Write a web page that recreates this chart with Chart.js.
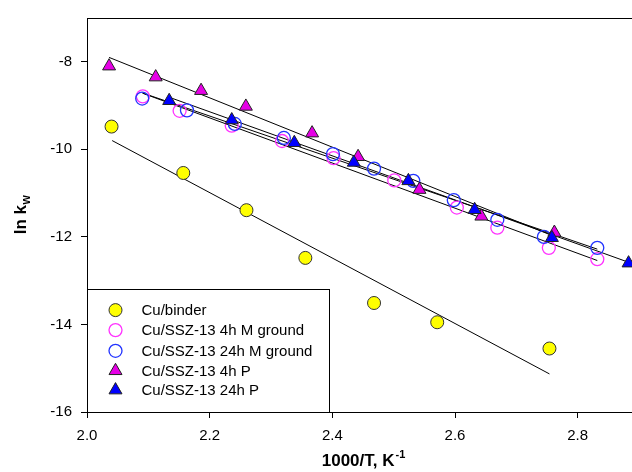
<!DOCTYPE html>
<html>
<head>
<meta charset="utf-8">
<script src="https://cdn.jsdelivr.net/npm/chart.js@4.4.1/dist/chart.umd.min.js"></script>
<style>
  html, body { margin: 0; padding: 0; background: #fff; overflow: hidden; }
  #wrap { width: 632px; height: 472px; overflow: hidden; }
</style>
</head>
<body>
<div id="wrap"><canvas id="chart" width="650" height="472"></canvas></div>
<script>
// x = 1000/T (K^-1), y = ln kw
const binderX = [2.040, 2.157, 2.260, 2.356, 2.468, 2.571, 2.754];
const binderY = [-9.48, -10.54, -11.39, -12.48, -13.51, -13.95, -14.55];

const ground4hX = [2.091, 2.151, 2.236, 2.318, 2.402, 2.501, 2.603, 2.669, 2.753, 2.832];
const ground4hY = [-8.79, -9.12, -9.46, -9.81, -10.20, -10.71, -11.33, -11.79, -12.25, -12.51];

const ground24hX = [2.090, 2.163, 2.241, 2.321, 2.401, 2.468, 2.532, 2.598, 2.669, 2.745, 2.832];
const ground24hY = [-8.84, -9.11, -9.42, -9.74, -10.11, -10.44, -10.72, -11.16, -11.61, -12.00, -12.25];

const p4hX = [2.036, 2.112, 2.186, 2.259, 2.367, 2.442, 2.542, 2.643, 2.762];
const p4hY = [-8.10, -8.35, -8.66, -9.02, -9.63, -10.17, -10.92, -11.53, -11.90];

const p24hX = [2.134, 2.236, 2.338, 2.435, 2.524, 2.632, 2.758, 2.883];
const p24hY = [-8.89, -9.33, -9.85, -10.30, -10.72, -11.38, -12.02, -12.60];

// regression lines, start and end
const binderFitX = [2.041, 2.754];
const binderFitY = [-9.80, -15.13];
const ground4hFitX = [2.091, 2.832];
const ground4hFitY = [-8.72, -12.54];
const ground24hFitX = [2.090, 2.832];
const ground24hFitY = [-8.71, -12.28];
const p4hFitX = [2.036, 2.762];
const p4hFitY = [-7.90, -11.99];
const p24hFitX = [2.134, 2.883];
const p24hFitY = [-8.81, -12.58];

const seriesNames = ["Cu/binder", "Cu/SSZ-13 4h M ground", "Cu/SSZ-13 24h M ground", "Cu/SSZ-13 4h P", "Cu/SSZ-13 24h P"];
const xTicks = [2.0, 2.2, 2.4, 2.6, 2.8];
const yTicks = [-16, -14, -12, -10, -8];

const FONT = "'Liberation Sans', Arial, sans-serif";

const pts = (xs, ys) => xs.map((x, i) => ({ x: x, y: ys[i] }));

// marker look for each series (legend uses the same)
const styles = [
  { pointStyle: "circle",   radius: 6.5, fill: "#ffff00", stroke: "#333333", width: 1 },
  { pointStyle: "circle",   radius: 6.5, fill: "rgba(0,0,0,0)", stroke: "#ff33ff", width: 1.3 },
  { pointStyle: "circle",   radius: 6.5, fill: "rgba(0,0,0,0)", stroke: "#2233ff", width: 1.3 },
  { pointStyle: "triangle", radius: 7.5, fill: "#e600e6", stroke: "#222222", width: 1 },
  { pointStyle: "triangle", radius: 7.5, fill: "#0000ff", stroke: "#222222", width: 1 }
];

const seriesData = [
  pts(binderX, binderY),
  pts(ground4hX, ground4hY),
  pts(ground24hX, ground24hY),
  pts(p4hX, p4hY),
  pts(p24hX, p24hY)
];

const fitData = [
  pts(binderFitX, binderFitY),
  pts(ground4hFitX, ground4hFitY),
  pts(ground24hFitX, ground24hFitY),
  pts(p4hFitX, p4hFitY),
  pts(p24hFitX, p24hFitY)
];

const datasets = [];
seriesData.forEach((d, i) => {
  const s = styles[i];
  datasets.push({
    label: seriesNames[i],
    data: d,
    pointStyle: s.pointStyle,
    pointRadius: s.radius,
    pointBackgroundColor: s.fill,
    pointBorderColor: s.stroke,
    pointBorderWidth: s.width,
    showLine: false,
    order: 10 - i
  });
});
fitData.forEach((d, i) => {
  datasets.push({
    label: seriesNames[i] + " fit",
    data: d,
    showLine: true,
    pointRadius: 0,
    borderColor: "#000",
    borderWidth: 1,
    order: 20
  });
});

// frame, inset legend and axis titles with sub/superscripts
const decorations = {
  id: "decorations",
  afterDatasetsDraw(chart) {
    const ctx = chart.ctx;
    const a = chart.chartArea;
    const L = Math.round(a.left) + 0.5, T = Math.round(a.top) + 0.5;
    const R = Math.round(a.right) + 0.5, B = Math.round(a.bottom) + 0.5;
    ctx.save();
    ctx.strokeStyle = "#000";
    ctx.lineWidth = 1;
    ctx.strokeRect(L, T, R - L, B - T);

    // legend box
    const boxR = L + 242, boxT = B - 123;
    ctx.fillStyle = "#fff";
    ctx.fillRect(L, boxT, boxR - L, B - boxT);
    ctx.strokeRect(L, boxT, boxR - L, B - boxT);

    const rowY = [B - 102.4, B - 82.4, B - 61.7, B - 41.7, B - 22.4];
    ctx.font = "15px " + FONT;
    ctx.textBaseline = "middle";
    ctx.textAlign = "left";
    styles.forEach((s, i) => {
      ctx.fillStyle = s.fill;
      ctx.strokeStyle = s.stroke;
      ctx.lineWidth = s.width;
      Chart.helpers.drawPoint(ctx, { pointStyle: s.pointStyle, radius: s.radius, rotation: 0, borderWidth: s.width }, L + 28, rowY[i]);
      ctx.fillStyle = "#000";
      ctx.fillText(seriesNames[i], L + 54, rowY[i] + 1);
    });
    ctx.restore();
  },
  afterDraw(chart) {
    const ctx = chart.ctx;
    const a = chart.chartArea;
    ctx.save();
    ctx.fillStyle = "#000";
    ctx.textBaseline = "alphabetic";

    // x title: 1000/T, K^-1
    const main = "1000/T, K", sup = "-1";
    ctx.font = "bold 17px " + FONT;
    const wMain = ctx.measureText(main).width;
    ctx.font = "bold 11px " + FONT;
    const wSup = ctx.measureText(sup).width;
    let x0 = (a.left + a.right) / 2 - (wMain + wSup) / 2;
    const yb = 466;
    ctx.font = "bold 17px " + FONT;
    ctx.textAlign = "left";
    ctx.fillText(main, x0, yb);
    ctx.font = "bold 11px " + FONT;
    ctx.fillText(sup, x0 + wMain + 1, yb - 8);

    // y title: ln k_w
    ctx.translate(26, (a.top + a.bottom) / 2);
    ctx.rotate(-Math.PI / 2);
    const yMain = "ln k", ySub = "w";
    ctx.font = "bold 17px " + FONT;
    const wy = ctx.measureText(yMain).width;
    ctx.font = "bold 12px " + FONT;
    const ws = ctx.measureText(ySub).width;
    const y0 = -(wy + ws) / 2;
    ctx.font = "bold 17px " + FONT;
    ctx.fillText(yMain, y0, 0);
    ctx.font = "bold 12px " + FONT;
    ctx.fillText(ySub, y0 + wy + 0.5, 4);
    ctx.restore();
  }
};

const tickFont = { family: FONT, size: 15 };

new Chart(document.getElementById("chart"), {
  type: "scatter",
  data: { datasets: datasets },
  options: {
    responsive: false,
    animation: false,
    events: [],
    layout: { padding: { top: 15, right: 11, bottom: 0, left: 0 } },
    plugins: { legend: { display: false }, tooltip: { enabled: false } },
    scales: {
      x: {
        type: "linear",
        min: 2.0,
        max: 2.9,
        afterBuildTicks: s => { s.ticks = xTicks.map(v => ({ value: v })); },
        afterFit: s => { s.height = 60; },
        border: { display: false },
        grid: { drawOnChartArea: false, drawTicks: true, tickLength: 6, color: "#000", tickColor: "#000" },
        ticks: { font: tickFont, color: "#000", padding: 9, maxRotation: 0, callback: v => v.toFixed(1) }
      },
      y: {
        type: "linear",
        min: -16,
        max: -7,
        afterBuildTicks: s => { s.ticks = yTicks.map(v => ({ value: v })); },
        afterFit: s => { s.width = 87; },
        border: { display: false },
        grid: { drawOnChartArea: false, drawTicks: true, tickLength: 6, color: "#000", tickColor: "#000" },
        ticks: { font: tickFont, color: "#000", padding: 9, callback: v => String(v) }
      }
    }
  },
  plugins: [decorations]
});
</script>
</body>
</html>
